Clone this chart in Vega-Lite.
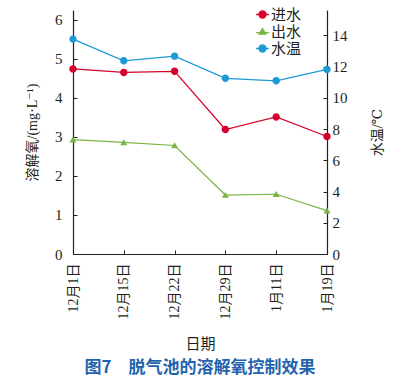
{
  "$schema": "https://vega.github.io/schema/vega-lite/v6.json",
  "width": 254,
  "height": 244,
  "autosize": "none",
  "padding": {"left": 73, "top": 10, "right": 82, "bottom": 128},
  "background": "white",
  "config": {
    "view": {"stroke": null},
    "font": "Liberation Serif, DejaVu Serif, Noto Sans CJK SC",
    "axis": {
      "grid": false,
      "domainColor": "#231f20",
      "tickColor": "#231f20",
      "labelColor": "#231f20",
      "titleColor": "#231f20",
      "labelFont": "Liberation Serif, DejaVu Serif, Noto Sans CJK SC",
      "titleFont": "Liberation Serif, DejaVu Serif, Noto Sans CJK SC",
      "labelFontSize": 15,
      "titleFontSize": 14,
      "titleFontWeight": "normal",
      "tickSize": -4,
      "domainWidth": 1.2,
      "tickWidth": 1
    },
    "legend": {
      "symbolStrokeWidth": 1.3
    }
  },
  "title": {
    "text": "图7　脱气池的溶解氧控制效果",
    "orient": "bottom",
    "anchor": "middle",
    "font": "Noto Sans CJK SC",
    "fontSize": 17,
    "fontWeight": "bold",
    "color": "#1f64ad",
    "offset": 9
  },
  "datasets": {
    "do": [
      {"date": "12月1日", "series": "进水", "value": 4.74},
      {"date": "12月15日", "series": "进水", "value": 4.65},
      {"date": "12月22日", "series": "进水", "value": 4.68},
      {"date": "12月29日", "series": "进水", "value": 3.19},
      {"date": "1月11日", "series": "进水", "value": 3.51},
      {"date": "1月19日", "series": "进水", "value": 3.01},
      {"date": "12月1日", "series": "出水", "value": 2.93},
      {"date": "12月15日", "series": "出水", "value": 2.86},
      {"date": "12月22日", "series": "出水", "value": 2.78},
      {"date": "12月29日", "series": "出水", "value": 1.51},
      {"date": "1月11日", "series": "出水", "value": 1.53},
      {"date": "1月19日", "series": "出水", "value": 1.11}
    ],
    "temp": [
      {"date": "12月1日", "series": "水温", "value": 13.76},
      {"date": "12月15日", "series": "水温", "value": 12.37},
      {"date": "12月22日", "series": "水温", "value": 12.67},
      {"date": "12月29日", "series": "水温", "value": 11.25},
      {"date": "1月11日", "series": "水温", "value": 11.09},
      {"date": "1月19日", "series": "水温", "value": 11.82}
    ]
  },
  "encoding": {
    "x": {
      "field": "date",
      "type": "ordinal",
      "sort": null,
      "scale": {"type": "point", "padding": 0, "domain": ["12月1日", "12月15日", "12月22日", "12月29日", "1月11日", "1月19日"]},
      "axis": {
        "title": "日期",
        "titleFontSize": 15,
        "labelAngle": 270,
        "labelAlign": "right",
        "labelBaseline": "middle",
        "labelFontSize": 14,
        "labelPadding": 13,
        "titleY": 89,
        "titleBaseline": "middle"
      }
    }
  },
  "layer": [
    {
      "data": {"name": "do"},
      "encoding": {
        "y": {
          "field": "value",
          "type": "quantitative",
          "scale": {"domain": [0, 6.25], "nice": false},
          "axis": {
            "orient": "left",
            "values": [0, 1, 2, 3, 4, 5, 6],
            "title": "溶解氧/(mg·L⁻¹)",
            "labelPadding": 15,
            "titleAngle": 270,
            "titleX": -34,
            "titleY": 122,
            "titleAlign": "center",
            "titleBaseline": "bottom"
          }
        }
      },
      "layer": [
        {
          "mark": {"type": "line", "strokeWidth": 1.2},
          "encoding": {
            "stroke": {"field": "series", "type": "nominal", "scale": {"domain": ["进水", "出水", "水温"], "range": ["#d7002a", "#7cb443", "#1c9ad6"]},
              "legend": {"title": null, "orient": "none", "legendX": 182, "legendY": -3, "padding": 0, "symbolSize": 50, "symbolStrokeWidth": 1.3, "labelFontSize": 15, "labelFont": "Noto Sans CJK SC", "labelColor": "#231f20", "labelOffset": 1, "rowPadding": 1,
                "encode": {"symbols": {"update": {"stroke": {"scale": "stroke", "field": "value"}, "strokeWidth": {"value": 1.3}, "strokeOpacity": {"value": 1}}}}}}
          }
        },
        {
          "mark": {"type": "point", "filled": true, "opacity": 1, "size": 55, "strokeWidth": 0},
          "encoding": {
            "color": {"field": "series", "type": "nominal", "scale": {"domain": ["进水", "出水", "水温"], "range": ["#d7002a", "#7cb443", "#1c9ad6"]},
              "legend": {"title": null, "orient": "none", "legendX": 182, "legendY": -3, "padding": 0, "symbolSize": 50, "symbolStrokeWidth": 1.3, "labelFontSize": 15, "labelFont": "Noto Sans CJK SC", "labelColor": "#231f20", "labelOffset": 1, "rowPadding": 1,
                "encode": {"symbols": {"update": {"stroke": {"scale": "stroke", "field": "value"}, "strokeWidth": {"value": 1.3}, "strokeOpacity": {"value": 1}}}}}},
            "shape": {"field": "series", "type": "nominal", "scale": {"domain": ["进水", "出水", "水温"], "range": ["M-1.8,0 L1.8,0 M-1,0 A1,1 0 1,0 1,0 A1,1 0 1,0 -1,0 Z", "M-1.8,0.3 L1.8,0.3 M0,-0.85 L0.95,0.75 L-0.95,0.75 Z", "M-1.8,0 L1.8,0 M-1,0 A1,1 0 1,0 1,0 A1,1 0 1,0 -1,0 Z"]},
              "legend": {"title": null, "orient": "none", "legendX": 182, "legendY": -3, "padding": 0, "symbolSize": 50, "symbolStrokeWidth": 1.3, "labelFontSize": 15, "labelFont": "Noto Sans CJK SC", "labelColor": "#231f20", "labelOffset": 1, "rowPadding": 1,
                "encode": {"symbols": {"update": {"stroke": {"scale": "stroke", "field": "value"}, "strokeWidth": {"value": 1.3}, "strokeOpacity": {"value": 1}}}}}}
          }
        }
      ]
    },
    {
      "data": {"name": "temp"},
      "encoding": {
        "y": {
          "field": "value",
          "type": "quantitative",
          "scale": {"domain": [0, 15.625], "nice": false},
          "axis": {
            "orient": "right",
            "values": [0, 2, 4, 6, 8, 10, 12, 14],
            "title": "水温/℃",
            "labelPadding": 9,
            "titleAngle": 270,
            "titleX": 43,
            "titleY": 122,
            "titleAlign": "center",
            "titleBaseline": "top"
          }
        }
      },
      "layer": [
        {
          "mark": {"type": "line", "strokeWidth": 1.2},
          "encoding": {
            "stroke": {"field": "series", "type": "nominal"}
          }
        },
        {
          "mark": {"type": "point", "filled": true, "opacity": 1, "size": 55, "strokeWidth": 0},
          "encoding": {
            "color": {"field": "series", "type": "nominal"},
            "shape": {"field": "series", "type": "nominal"}
          }
        }
      ]
    }
  ],
  "resolve": {"scale": {"y": "independent"}}
}
